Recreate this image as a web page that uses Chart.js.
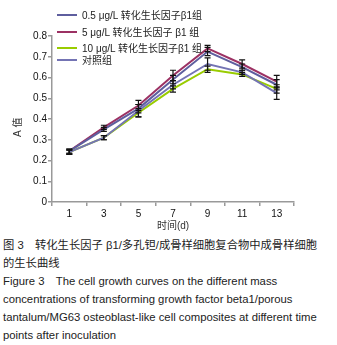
<!DOCTYPE html>
<html><head><meta charset="utf-8">
<script src="https://cdn.jsdelivr.net/npm/chart.js@4/dist/chart.umd.min.js"></script>
<style>
html,body{margin:0;padding:0;background:#fff;}
#wrap{position:relative;width:337px;height:345px;overflow:hidden;font-family:"Liberation Sans","Noto Sans CJK SC",sans-serif;}
#c{position:absolute;left:0;top:0;}
.lg{position:absolute;left:57px;font-size:10px;color:#222;white-space:nowrap;line-height:12px;}
.lg span.sw{display:inline-block;width:20px;height:2px;vertical-align:middle;margin-right:5px;position:relative;top:-1px;}
#cap{position:absolute;left:3px;top:236px;font-size:11.3px;color:#222;line-height:18.1px;white-space:nowrap;}
</style></head>
<body><div id="wrap">
<canvas id="c" width="337" height="232"></canvas>
<div id="legend"></div>
<div id="cap">图 3　转化生长因子 β1/多孔钽/成骨样细胞复合物中成骨样细胞<br>的生长曲线<br>Figure 3　The cell growth curves on the different mass<br>concentrations of transforming growth factor beta1/porous<br>tantalum/MG63 osteoblast-like cell composites at different time<br>points after inoculation</div>
</div>
<script>
const days = ["1","3","5","7","9","11","13"];
const seriesNames = ["0.5 μg/L 转化生长因子β1组","5 μg/L 转化生长因子 β1 组","10 μg/L 转化生长因子β1 组","对照组"];
const g05 = [0.245,0.35,0.45,0.59,0.725,0.65,0.565];
const g5 = [0.245,0.36,0.465,0.61,0.74,0.665,0.58];
const g10 = [0.24,0.31,0.43,0.545,0.64,0.615,0.545];
const ctrl = [0.24,0.31,0.44,0.565,0.665,0.625,0.525];
const e05 = [0.01,0.01,0.02,0.02,0.02,0.015,0.025];
const e5 = [0.01,0.01,0.025,0.025,0.015,0.02,0.03];
const e10 = [0.01,0.01,0.02,0.015,0.015,0.01,0.02];
const eCtrl = [0.01,0.01,0.03,0.02,0.03,0.01,0.03];
const yTicks = [0,0.1,0.2,0.3,0.4,0.5,0.6,0.7,0.8];
const colors = ["#5e5e9e","#9c3163","#99cc00","#7474b4"];
const legendY = [16,33,49,61];

const errs = [e05,e5,e10,eCtrl];
const vals = [g05,g5,g10,ctrl];
const order = [3,2,0,1];

const lg = document.getElementById('legend');
seriesNames.forEach((n,i)=>{
  const d=document.createElement('div');d.className='lg';d.style.top=(legendY[i]-6)+'px';
  d.innerHTML='<span class="sw" style="background:'+colors[i]+'"></span>'+n;
  lg.appendChild(d);
});

const errorBars = {
  id:'errorBars',
  afterDatasetsDraw(chart){
    const {ctx, scales:{x,y}} = chart;
    ctx.save();
    ctx.strokeStyle='#111';ctx.lineWidth=1.2;
    chart.data.datasets.forEach((ds)=>{
      ds.data.forEach((v,j)=>{
        const e = ds.err[j];
        const px = x.getPixelForValue(j);
        const y1 = y.getPixelForValue(v+e), y2 = y.getPixelForValue(v-e);
        ctx.beginPath();
        ctx.moveTo(px,y1);ctx.lineTo(px,y2);
        ctx.moveTo(px-3,y1);ctx.lineTo(px+3,y1);
        ctx.moveTo(px-3,y2);ctx.lineTo(px+3,y2);
        ctx.stroke();
      });
    });
    ctx.restore();
  }
};

new Chart(document.getElementById('c'),{
  type:'line',
  data:{labels:days,datasets:order.map(i=>({label:seriesNames[i],data:vals[i],err:errs[i],borderColor:colors[i],borderWidth:2,pointRadius:0,tension:0,fill:false}))},
  options:{
    responsive:false,animation:false,
    layout:{padding:{top:36,right:43,left:0,bottom:0}},
    plugins:{legend:{display:false},tooltip:{enabled:false}},
    scales:{
      x:{type:'category',offset:true,
        grid:{offset:true,drawOnChartArea:false,drawTicks:true,tickLength:4,color:'#999',lineWidth:1.5},
        border:{color:'#999',width:1.5},
        ticks:{color:'#111',font:{family:'Liberation Sans',size:10},padding:2,maxRotation:0,autoSkip:false},
        title:{display:true,text:'时间(d)',color:'#333',font:{family:'Liberation Sans, Noto Sans CJK SC',size:10},padding:{top:0,bottom:0}},
        afterFit(s){s.height=30;}
      },
      y:{min:0,max:0.8,
        afterBuildTicks(s){s.ticks=yTicks.map(v=>({value:v}));},
        grid:{drawOnChartArea:false,drawTicks:true,tickLength:4,color:'#999',lineWidth:1.5},
        border:{color:'#999',width:1.5},
        ticks:{color:'#111',font:{family:'Liberation Sans',size:10},padding:1,callback:v=>String(v)},
        title:{display:true,text:'A 值      ',color:'#333',font:{family:'Liberation Sans, Noto Sans CJK SC',size:10},padding:{top:12,bottom:0}},
        afterFit(s){s.width=52;}
      }
    }
  },
  plugins:[errorBars]
});
</script>
</body></html>
